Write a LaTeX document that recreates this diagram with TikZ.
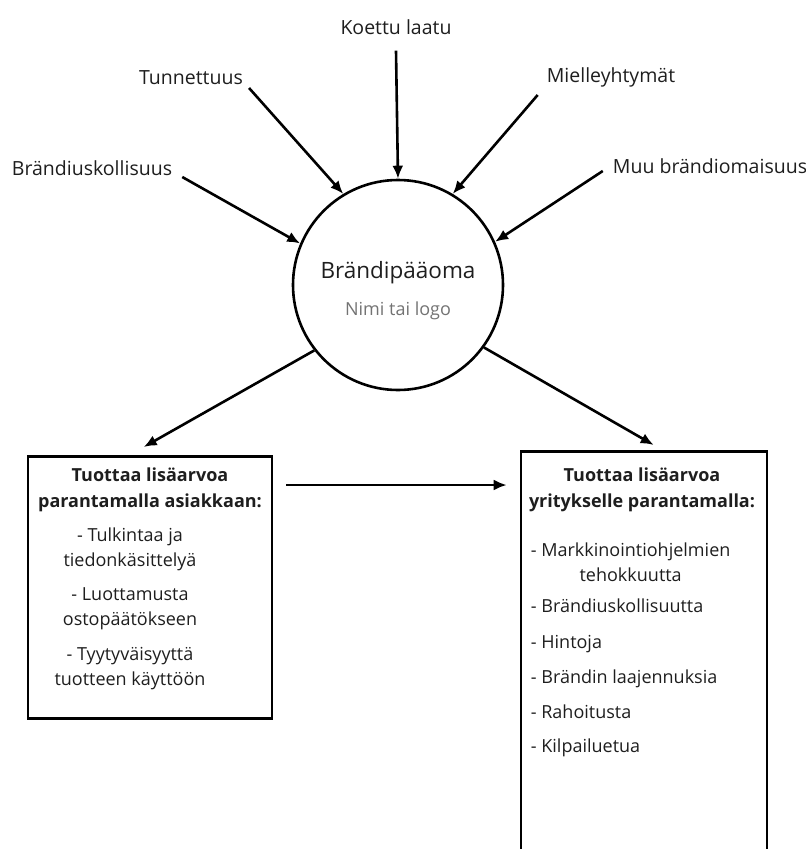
\documentclass[tikz,border=0pt]{standalone}
\usepackage{fontspec}
\setmainfont{Open Sans}
\usetikzlibrary{arrows.meta}
\definecolor{bpTeksti}{RGB}{30, 30, 30}
\definecolor{bpHarmaa}{RGB}{115, 115, 115}

\begin{document}
\begin{tikzpicture}[x=1pt, y=-1pt,
    tunniste/.style={text=bpTeksti, inner sep=0pt, font=\fontsize{19.5}{24}\selectfont},
    nuoli/.style={line width=2.6pt, -{Latex[length=13pt, width=11pt]}},
    laatikko/.style={draw, line width=2.6pt, inner sep=0pt},
    otsikko/.style={text=bpTeksti, inner sep=0pt, align=center,
      font=\bfseries\fontsize{18}{26}\selectfont},
    kohta/.style={text=bpTeksti, inner sep=0pt, align=center,
      font=\fontsize{18}{25}\selectfont}]
    \clip (0,0) rectangle (806,849);

    % keskella oleva ympyra
    \node[draw, circle, line width=2.6pt, minimum size=210pt] (paaoma) at (398,285) {};
    \node[text=bpTeksti, font=\fontsize{22.5}{26}\selectfont] (nimi) at (398,273) {Brändipääoma};
    \node[text=bpHarmaa, font=\fontsize{18}{22}\selectfont] (logo) at (398,311) {Nimi tai logo};

    \foreach \tunnus/\teksti/\x/\y/\ank/\dx/\dy/\kulma in {%
      uskoll/{Brändiuskollisuus}/92/168/east/10/9/157,%
      tunnet/{Tunnettuus}/191/78/east/6/10/121,%
      koettu/{Koettu laatu}/396/27/south/0/16/90,%
      mielle/{Mielleyhtymät}/611/77/west/-9/18/59,%
      muu/{Muu brändiomaisuus}/710/166/west/-10/5/24%
    }{%
      \node[tunniste] (\tunnus) at (\x,\y) {\teksti};
      \draw[nuoli] ([shift={(\dx,\dy)}]\tunnus.\ank) -- (paaoma.\kulma);
    }

    % laatikot
    \node[laatikko, anchor=north, minimum width=244pt, minimum height=262pt]
      (asiakas) at (150,455) {};
    \node[laatikko, anchor=north, minimum width=246pt, minimum height=440pt]
      (yritys) at (644,450) {};

    \node[otsikko] (otsA) at ([shift={(0,35)}]asiakas.north)
      {Tuottaa lisäarvoa\\parantamalla asiakkaan:};
    \node[otsikko] (otsY) at ([shift={(-2,40)}]yritys.north)
      {Tuottaa lisäarvoa\\yritykselle parantamalla:};

    \foreach \n/\dy/\teksti in {%
      1/94/{- Tulkintaa ja\\tiedonkäsittelyä},%
      2/154/{- Luottamusta\\ostopäätökseen},%
      3/214/{- Tyytyväisyyttä\\tuotteen käyttöön}%
    }{%
      \node[kohta] (a\n) at ([shift={(-20,\dy)}]asiakas.north) {\teksti};
    }

    \node[kohta, anchor=west] (y1) at ([shift={(11,112)}]yritys.north west)
      {- Markkinointiohjelmien\\tehokkuutta};
    \foreach \n/\dy/\teksti in {%
      2/158/{- Brändiuskollisuutta},%
      3/194/{- Hintoja},%
      4/229/{- Brändin laajennuksia},%
      5/264/{- Rahoitusta},%
      6/298/{- Kilpailuetua}%
    }{%
      \node[kohta, anchor=west, text height=13pt, text depth=4.5pt]
        (y\n) at ([shift={(11,\dy)}]yritys.north west) {\teksti};
    }

    \draw[nuoli] (paaoma.218) -- ([shift={(117,-8)}]asiakas.north west);
    \draw[nuoli] (paaoma.324) -- ([shift={(134,-5)}]yritys.north west);
    \draw[nuoli] ([shift={(13,30)}]asiakas.north east) -- ([shift={(-13,35)}]yritys.north west);
  \end{tikzpicture}
\end{document}
